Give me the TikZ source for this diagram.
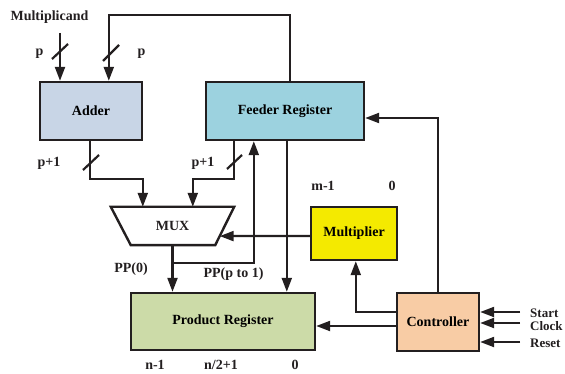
\documentclass[tikz,border=0pt]{standalone}
\usepackage{fontspec}
\setmainfont{Liberation Serif}
\usetikzlibrary{arrows.meta,calc}
\definecolor{adderc}{HTML}{C8D5E6}
\definecolor{feederc}{HTML}{9CD2DF}
\definecolor{multc}{HTML}{F4EA00}
\definecolor{prodc}{HTML}{CCDBA8}
\definecolor{ctrlc}{HTML}{F8CCA5}
\definecolor{inkc}{HTML}{231F20}
\begin{document}
\begin{tikzpicture}[x=1pt,y=-1pt,
  box/.style={draw=inkc,line width=2.4pt,font=\fontsize{14}{16}\selectfont\bfseries,inner sep=0pt},
  lbl/.style={font=\fontsize{14}{16}\selectfont\bfseries,inner sep=0pt,text=inkc},
  sig/.style={font=\fontsize{13}{15}\selectfont\bfseries,inner sep=0pt,text=inkc,anchor=west},
  arr/.style={draw=inkc,line width=2.2pt,-{Triangle[length=14pt,width=10pt]}},
  slash/.style={draw=inkc,line width=2.2pt}]
\useasboundingbox (0,0) rectangle (565,374);
\clip (0,0) rectangle (565,374);
% boxes
\node[box,fill=adderc,minimum width=102pt,minimum height=58pt] (adder) at (91,111) {Adder};
\node[box,fill=feederc,minimum width=158pt,minimum height=58pt] (feeder) at (285,111) {Feeder Register};
\node[box,fill=multc,minimum width=86pt,minimum height=53pt] (mult) at (354,233.5) {Multiplier};
\node[box,fill=prodc,minimum width=184pt,minimum height=57pt] (prod) at (223,321.5) {Product Register};
\node[box,fill=ctrlc,minimum width=82pt,minimum height=58pt] (ctrl) at (438,322) {Controller};
\node[lbl,minimum width=123pt,minimum height=38pt] (mux) at (172.5,226) {MUX};
\draw[draw=inkc,line width=2.4pt,line join=miter] (mux.north west) -- (mux.north east) -- ($(mux.south east)+(-19,0)$) -- ($(mux.south west)+(20,0)$) -- cycle;
\coordinate (muxr) at ($(mux.north east)!0.763!($(mux.south east)+(-19,0)$)$);
% labels
\node[lbl] (lmc) at (49.5,17) {Multiplicand};
\node[lbl] (lp1) at (39.5,54) {p};
\node[lbl] (lp2) at (141.5,54) {p};
\node[lbl] (lq1) at (49,163) {p+1};
\node[lbl] (lq2) at (203,163) {p+1};
\node[lbl] (lm1) at (323,186) {m-1};
\node[lbl] (lm0) at (392,186) {0};
\node[lbl] (lpp0) at (131,269) {PP(0)};
\node[lbl] (lpp1) at (233.5,274) {PP(p to 1)};
\node[lbl] (ln1) at (155,365) {n-1};
\node[lbl] (ln2) at (221,365) {n/2+1};
\node[lbl] (ln0) at (295,365) {0};
\node[sig] (lst) at (530,313) {Start};
\node[sig] (lck) at (530,326) {Clock};
\node[sig] (lrs) at (530,343) {Reset};
% connectors
\coordinate (mc) at (60,33);
\draw[arr] (mc) -- (mc |- adder.north);
\draw[slash] (52,59) -- (68,44);
\coordinate (ftop) at (290,15);
\draw[arr] (feeder.north -| ftop) -- (ftop) -| ($(adder.north west)+(70,0)$);
\draw[slash] (103,61) -- (119,45);
\draw[arr] ($(adder.south west)+(51,0)$) -- ++(0,38) -| ($(mux.north west)+(32,0)$);
\draw[slash] (83,170) -- (99,155);
\draw[arr] ($(feeder.south west)+(29,0)$) -- ++(0,38) -| ($(mux.north west)+(82,0)$);
\draw[slash] (227,169) -- (242,155);
\draw[arr] (mux.south) -- (mux.south |- prod.north);
\coordinate (pp) at ($(mux.south)+(0,18)$);
\draw[arr] (pp) -| ($(feeder.south west)+(49,0)$);
\coordinate (f2) at ($(feeder.south west)+(82,0)$);
\draw[arr] (f2) -- (f2 |- prod.north);
\draw[arr] ($(mult.west)+(0,2.5)$) -- (muxr);
\draw[arr] ($(ctrl.north west)+(0,20)$) -| ($(mult.south west)+(46,0)$);
\coordinate (c1) at ($(ctrl.west)+(0,4)$);
\draw[arr] (c1) -- (c1 -| prod.east);
\draw[arr] (ctrl.north) |- ($(feeder.east)+(0,7)$);
\coordinate (s1) at (520,312);
\coordinate (s2) at (520,323);
\coordinate (s3) at (520,342);
\draw[arr] (s1) -- (s1 -| ctrl.east);
\draw[arr] (s2) -- (s2 -| ctrl.east);
\draw[arr] (s3) -- (s3 -| ctrl.east);
\end{tikzpicture}
\end{document}
